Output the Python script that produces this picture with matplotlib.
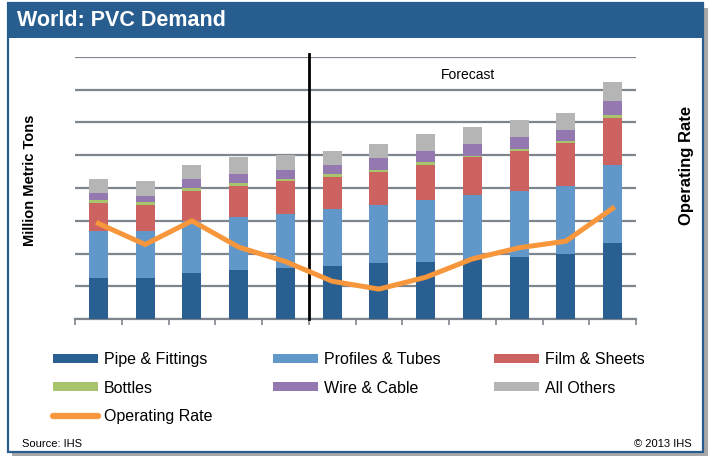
import numpy as np
import matplotlib
matplotlib.use("Agg")
import matplotlib.pyplot as plt
from matplotlib.patches import Rectangle, Patch
from matplotlib.lines import Line2D

plt.rcParams['font.family'] = ['Liberation Sans', 'DejaVu Sans']

# Demand by end use, million metric tons (12 years, last 7 are forecast)
years = list(range(12))
pipe = [12.7, 12.7, 14.0, 14.9, 15.5, 16.2, 17.0, 17.6, 18.3, 19.1, 19.8, 23.3]
profiles = [14.3, 14.3, 16.0, 16.4, 16.6, 17.4, 17.8, 18.7, 19.5, 20.0, 20.9, 23.7]
film = [8.5, 7.9, 9.2, 9.4, 9.9, 9.8, 10.1, 10.7, 11.5, 12.2, 12.9, 14.3]
bottles = [0.8, 0.7, 0.8, 0.7, 0.8, 0.8, 0.7, 0.8, 0.5, 0.7, 0.7, 1.0]
wire = [2.2, 2.1, 2.8, 2.9, 2.8, 2.8, 3.5, 3.5, 3.7, 3.6, 3.5, 4.2]
others = [4.3, 4.4, 4.3, 5.0, 4.4, 4.4, 4.4, 5.1, 5.0, 5.1, 5.0, 5.7]
# operating rate, percent (secondary axis, unlabeled)
op_rate = [74.6, 71.4, 75.0, 71.0, 68.8, 65.8, 64.6, 66.4, 69.2, 70.9, 71.9, 76.9]
forecast_start = 5  # index of first forecast year

series = [
    ("Pipe & Fittings", pipe, "#2A5F92"),
    ("Profiles & Tubes", profiles, "#6297CA"),
    ("Film & Sheets", film, "#CC6360"),
    ("Bottles", bottles, "#A8C46C"),
    ("Wire & Cable", wire, "#9479B1"),
    ("All Others", others, "#B5B5B5"),
]
orange = "#F7963B"
frame_blue = "#285E8F"

W, H = 712, 457
fig = plt.figure(figsize=(W / 100, H / 100), dpi=100)


def px(x0, y0, x1, y1):
    # pixel box (top-left origin) -> figure rect
    return [x0 / W, 1 - y1 / H, (x1 - x0) / W, (y1 - y0) / H]


# frame, shadow and title bar
r = px(12, 8, 708, 456)
fig.patches.append(Rectangle((r[0], r[1]), r[2], r[3], transform=fig.transFigure,
                             facecolor="#A8A8A8", edgecolor="none", zorder=-3))
r = px(8, 3, 703, 452)
fig.patches.append(Rectangle((r[0], r[1]), r[2], r[3], transform=fig.transFigure,
                             facecolor="white", edgecolor=frame_blue, lw=1.6, zorder=-2))
r = px(8, 3, 703, 38)
fig.patches.append(Rectangle((r[0], r[1]), r[2], r[3], transform=fig.transFigure,
                             facecolor=frame_blue, edgecolor="none", zorder=-1))
fig.text(17 / W, 1 - 21 / H, "World: PVC Demand", color="white", fontsize=15.5,
         fontweight="bold", va="center", ha="left")

ax = fig.add_axes(px(75, 56.7, 636, 319.3))
x = np.arange(len(years))
bottom = np.zeros(len(years))
for name, vals, col in series:
    ax.bar(x, vals, width=0.41, bottom=bottom, color=col, zorder=3, label=name)
    bottom += np.array(vals)

ax.set_xlim(-0.5, len(years) - 0.5)
ax.set_ylim(0, 80)
ax.set_yticks(np.arange(0, 81, 10))
ax.yaxis.grid(True, color="#7E858C", lw=1.6, zorder=0)
ax.tick_params(axis="y", length=0, labelleft=False)
ax.set_xticks([])
ax.set_xticks(np.arange(-0.5, len(years)), minor=True)
ax.tick_params(axis="x", which="minor", length=4, width=1.2, color="#7E858C",
               direction="out")
for s in ["left", "right", "top"]:
    ax.spines[s].set_visible(False)
ax.spines["bottom"].set_color("#7E858C")
ax.spines["bottom"].set_linewidth(1.6)
ax.set_axisbelow(True)
ax.patch.set_alpha(0)

ax.axvline(forecast_start - 0.5, ymin=0, ymax=1.01, color="black", lw=2, zorder=4,
           clip_on=False)
ax.text(7.9, 74.5, "Forecast", fontsize=10, ha="center", va="center")

ax2 = ax.twinx()
ax2.plot(x, op_rate, color=orange, lw=3.6, solid_joinstyle="miter", zorder=5)
ax2.set_ylim(60, 100)
ax2.set_yticks([])
for s in ax2.spines.values():
    s.set_visible(False)

fig.text(30 / W, 1 - 180 / H, "Million Metric Tons", rotation=90, fontsize=10.5,
         fontweight="bold", ha="center", va="center")
fig.text(687 / W, 1 - 165 / H, "Operating Rate", rotation=90, fontsize=12,
         fontweight="bold", ha="center", va="center")

# legend, three columns placed separately
def handle(name, col):
    return Patch(facecolor=col, edgecolor="none", label=name)

cols = [
    ([handle(*series[0][::2]), handle(*series[3][::2]),
      Line2D([], [], color=orange, lw=4.5, solid_capstyle="round", label="Operating Rate")], 53),
    ([handle(*series[1][::2]), handle(*series[4][::2])], 273),
    ([handle(*series[2][::2]), handle(*series[5][::2])], 494),
]
for hs, xl in cols:
    fig.legend(handles=hs, loc="upper left", bbox_to_anchor=(xl / W, 1 - 352 / H),
               frameon=False, fontsize=11.5, handlelength=2.8, handleheight=0.5,
               handletextpad=0.4, labelspacing=0.85, borderpad=0, borderaxespad=0)

fig.text(22 / W, 1 - 444 / H, "Source: IHS", fontsize=8, ha="left", va="center")
fig.text(692 / W, 1 - 444 / H, "\u00a9 2013 IHS", fontsize=8, ha="right", va="center")

fig.savefig("out.png", dpi=100)
